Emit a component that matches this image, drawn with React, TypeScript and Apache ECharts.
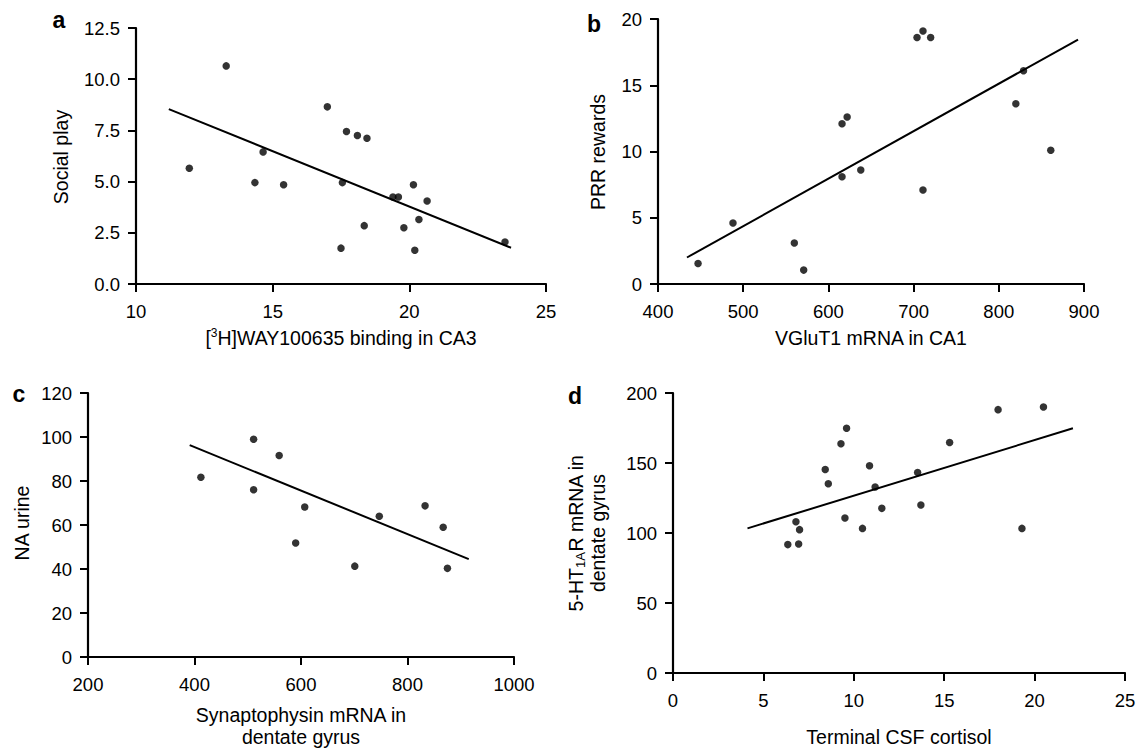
import React, { useEffect, useRef } from 'react';
import * as echarts from 'echarts';

// Panel a: [3H]WAY100635 binding in CA3 vs Social play
const aX = [11.95, 13.3, 14.35, 14.65, 15.4, 17.0, 17.5, 17.55, 17.7, 18.1, 18.35, 18.45, 19.4, 19.6, 19.8, 20.15, 20.2, 20.35, 20.65, 23.5];
const aY = [5.65, 10.65, 4.95, 6.45, 4.85, 8.65, 1.75, 4.95, 7.45, 7.25, 2.85, 7.12, 4.25, 4.25, 2.75, 4.85, 1.65, 3.15, 4.05, 2.05];
const aFitX = [11.2, 23.72];
const aFitY = [8.54, 1.77];

// Panel b: VGluT1 mRNA in CA1 vs PRR rewards
const bX = [447, 488, 560, 571, 616, 622, 616, 638, 704, 711, 720, 711, 820, 829, 861];
const bY = [1.55, 4.6, 3.1, 1.05, 12.1, 12.6, 8.1, 8.6, 18.6, 19.1, 18.6, 7.1, 13.6, 16.1, 10.1];
const bFitX = [434, 893];
const bFitY = [2.0, 18.45];

// Panel c: Synaptophysin mRNA in dentate gyrus vs NA urine
const cX = [412, 511, 511, 559, 590, 607, 701, 747, 833, 867, 875];
const cY = [81.7, 99, 76, 91.6, 51.8, 68.2, 41.3, 64, 68.7, 59, 40.3];
const cFitX = [391, 915];
const cFitY = [96.3, 44.5];

// Panel d: Terminal CSF cortisol vs 5-HT1AR mRNA in dentate gyrus
const dX = [6.35, 6.95, 6.8, 7.0, 8.42, 8.59, 9.29, 9.6, 9.51, 10.48, 10.87, 11.18, 11.55, 13.53, 13.71, 15.3, 17.98, 19.3, 20.49];
const dY = [91.7, 92.2, 108, 102.4, 145.4, 135.2, 163.7, 174.8, 110.7, 103.3, 148, 132.8, 117.6, 143.2, 120, 164.6, 188.1, 103.3, 190];
const dFitX = [4.12, 22.12];
const dFitY = [103.3, 174.8];

// axis ranges [min, max, interval]
const aXRange = [10, 25, 5];
const aYRange = [0, 12.5, 2.5];
const bXRange = [400, 900, 100];
const bYRange = [0, 20, 5];
const cXRange = [200, 1000, 200];
const cYRange = [0, 120, 20];
const dXRange = [0, 25, 5];
const dYRange = [0, 200, 50];

const FONT = '"Liberation Sans", Arial, Helvetica, sans-serif';

const pairs = (xs: number[], ys: number[]) => xs.map((x, i) => [x, ys[i]]);

const grids = [
  { left: 136, top: 28, width: 410, height: 256 },
  { left: 658, top: 19, width: 426, height: 265 },
  { left: 88, top: 393, width: 426, height: 264 },
  { left: 673, top: 393, width: 452, height: 280 },
];

function makeAxis(gridIndex: number, r: number[], isX: boolean, decimals?: number) {
  return {
    type: 'value',
    gridIndex,
    min: r[0],
    max: r[1],
    interval: r[2],
    axisLine: { show: true, onZero: false, lineStyle: { color: '#000', width: 2.2 } },
    axisTick: { show: true, length: 8, lineStyle: { color: '#000', width: 2 } },
    axisLabel: {
      color: '#000',
      fontSize: 18.5,
      fontFamily: FONT,
      margin: isX ? 18 : 16,
      formatter: (v: number) => (decimals != null ? v.toFixed(decimals) : String(v)),
    },
    splitLine: { show: false },
  };
}

function scatter(i: number, xs: number[], ys: number[]) {
  return {
    type: 'scatter',
    xAxisIndex: i,
    yAxisIndex: i,
    data: pairs(xs, ys),
    symbol: 'circle',
    symbolSize: 7.5,
    itemStyle: { color: '#000' },
  };
}

function fit(i: number, xs: number[], ys: number[]) {
  return {
    type: 'line',
    xAxisIndex: i,
    yAxisIndex: i,
    data: pairs(xs, ys),
    symbol: 'none',
    showSymbol: false,
    lineStyle: { color: '#000', width: 2 },
  };
}

const titleStyle = (text: string, extra: any = {}) => ({
  text,
  fill: '#000',
  fontSize: 19.5,
  fontFamily: FONT,
  textAlign: 'center',
  textVerticalAlign: 'middle',
  ...extra,
});

export default function App() {
  const ref = useRef<HTMLDivElement>(null);
  useEffect(() => {
    if (!ref.current) return;
    const chart = echarts.init(ref.current, undefined, { renderer: 'svg' });
    const letter = (t: string, x: number, y: number) => ({
      type: 'text',
      x,
      y,
      style: { text: t, fill: '#000', fontSize: 23, fontWeight: 'bold', fontFamily: FONT, textAlign: 'center', textVerticalAlign: 'middle' },
    });
    chart.setOption({
      animation: false,
      backgroundColor: '#fff',
      grid: grids,
      xAxis: [
        makeAxis(0, aXRange, true),
        makeAxis(1, bXRange, true),
        makeAxis(2, cXRange, true),
        makeAxis(3, dXRange, true),
      ],
      yAxis: [
        makeAxis(0, aYRange, false, 1),
        makeAxis(1, bYRange, false),
        makeAxis(2, cYRange, false),
        makeAxis(3, dYRange, false),
      ],
      series: [
        scatter(0, aX, aY), fit(0, aFitX, aFitY),
        scatter(1, bX, bY), fit(1, bFitX, bFitY),
        scatter(2, cX, cY), fit(2, cFitX, cFitY),
        scatter(3, dX, dY), fit(3, dFitX, dFitY),
      ],
      graphic: [
        letter('a', 59, 20),
        letter('b', 594, 24),
        letter('c', 19, 394),
        letter('d', 575, 396),
        {
          type: 'text', x: 341, y: 338,
          style: titleStyle('{m|[}{s|3}{m|H]WAY100635 binding in CA3}', {
            rich: {
              m: { fontSize: 19.5, fontFamily: FONT, fill: '#000', lineHeight: 22 },
              s: { fontSize: 12, fontFamily: FONT, fill: '#000', lineHeight: 12, verticalAlign: 'top' },
            },
          }),
        },
        { type: 'text', x: 61, y: 157, rotation: Math.PI / 2, style: titleStyle('Social play') },
        { type: 'text', x: 871, y: 338, style: titleStyle('VGluT1 mRNA in CA1') },
        { type: 'text', x: 598, y: 152, rotation: Math.PI / 2, style: titleStyle('PRR rewards') },
        { type: 'text', x: 301, y: 726, style: titleStyle('Synaptophysin mRNA in\ndentate gyrus', { lineHeight: 22 }) },
        { type: 'text', x: 22, y: 523, rotation: Math.PI / 2, style: titleStyle('NA urine') },
        { type: 'text', x: 899, y: 737, style: titleStyle('Terminal CSF cortisol') },
        {
          type: 'text', x: 587, y: 533, rotation: Math.PI / 2,
          style: titleStyle('{m|5-HT}{s|1A}{m|R mRNA in}\n{m|dentate gyrus}', {
            rich: {
              m: { fontSize: 19.5, fontFamily: FONT, fill: '#000', lineHeight: 22 },
              s: { fontSize: 13, fontFamily: FONT, fill: '#000', lineHeight: 12, verticalAlign: 'bottom' },
            },
          }),
        },
      ],
    });
    return () => chart.dispose();
  }, []);
  return (
    <div
      ref={ref}
      style={{ position: 'absolute', left: 0, top: 0, width: 1143, height: 749, background: '#fff' }}
    />
  );
}
